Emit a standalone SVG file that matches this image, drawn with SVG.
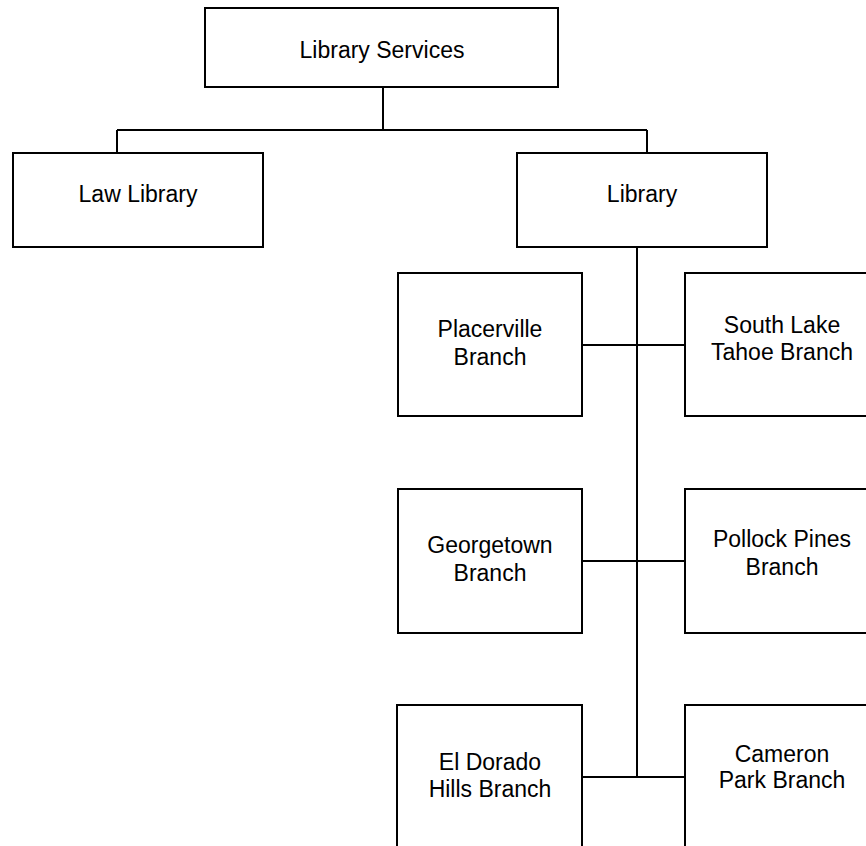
<svg xmlns="http://www.w3.org/2000/svg" width="866" height="846" viewBox="0 0 866 846">
<style>
.box{fill:#fff;stroke:#000;stroke-width:2}
.ln{fill:none;stroke:#000;stroke-width:2}
text{font-family:"Liberation Sans",Arial,sans-serif;font-size:23px;fill:#000;text-anchor:middle}
</style>
<rect width="866" height="846" fill="#fff"/>
<g id="connectors">
<path class="ln" d="M383,87V130M117,130H647M117,130V153M647,130V153"/>
<path class="ln" d="M637,247V777M582,345H685M582,561H685M582,777H685"/>
</g>
<g id="library-services"><rect class="box" x="205" y="8" width="353" height="79"/><text x="382" y="58">Library Services</text></g>
<g id="law-library"><rect class="box" x="13" y="153" width="250" height="94"/><text x="138" y="202">Law Library</text></g>
<g id="library"><rect class="box" x="517" y="153" width="250" height="94"/><text x="642" y="202">Library</text></g>
<g id="placerville"><rect class="box" x="398" y="273" width="184" height="143"/><text x="490" y="337">Placerville</text><text x="490" y="365">Branch</text></g>
<g id="south-lake-tahoe"><rect class="box" x="685" y="273" width="194" height="143"/><text x="782" y="333">South Lake</text><text x="782" y="360">Tahoe Branch</text></g>
<g id="georgetown"><rect class="box" x="398" y="489" width="184" height="144"/><text x="490" y="553">Georgetown</text><text x="490" y="581">Branch</text></g>
<g id="pollock-pines"><rect class="box" x="685" y="489" width="194" height="144"/><text x="782" y="547">Pollock Pines</text><text x="782" y="575">Branch</text></g>
<g id="el-dorado-hills"><rect class="box" x="397" y="705" width="185" height="144"/><text x="490" y="770">El Dorado</text><text x="490" y="797">Hills Branch</text></g>
<g id="cameron-park"><rect class="box" x="685" y="705" width="194" height="144"/><text x="782" y="762">Cameron</text><text x="782" y="788">Park Branch</text></g>
</svg>
